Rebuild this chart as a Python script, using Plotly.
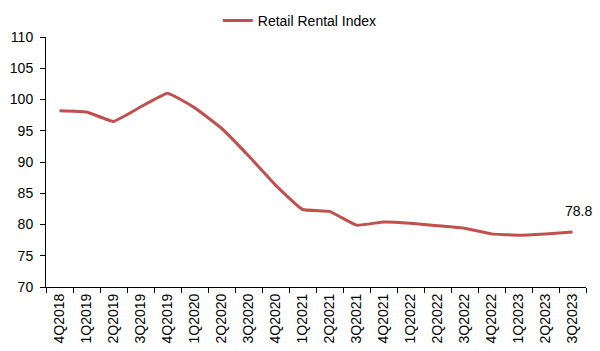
import plotly.graph_objects as go

categories = ["4Q2018", "1Q2019", "2Q2019", "3Q2019", "4Q2019", "1Q2020", "2Q2020",
              "3Q2020", "4Q2020", "1Q2021", "2Q2021", "3Q2021", "4Q2021", "1Q2022",
              "2Q2022", "3Q2022", "4Q2022", "1Q2023", "2Q2023", "3Q2023"]
retail_rental_index = [98.2, 98.0, 96.5, 98.8, 101.0, 98.7, 95.4, 91.0, 86.3, 82.4,
                       82.1, 79.9, 80.4, 80.2, 79.8, 79.4, 78.5, 78.3, 78.5, 78.8]
series_name = "Retail Rental Index"
y_ticks = [70, 75, 80, 85, 90, 95, 100, 105, 110]

fig = go.Figure()
fig.add_trace(go.Scatter(
    x=categories, y=retail_rental_index, mode="lines", name=series_name,
    line=dict(color="#C0504D", width=3, shape="spline", smoothing=0.3),
))

fig.add_annotation(
    x=categories[-1], y=retail_rental_index[-1], text=f"{retail_rental_index[-1]:.1f}",
    showarrow=False, yshift=21, xshift=6,
    font=dict(family="Liberation Sans, Arial", size=14, color="#000000"),
)

fig.update_layout(
    width=600, height=351,
    margin=dict(l=46, r=14, t=37, b=64, autoexpand=False),
    paper_bgcolor="white", plot_bgcolor="white",
    font=dict(family="Liberation Sans, Arial", size=14, color="#000000"),
    showlegend=True,
    legend=dict(orientation="h", x=0.47, xanchor="center", y=1.064, yanchor="middle",
                font=dict(size=14), itemwidth=30, bgcolor="rgba(0,0,0,0)"),
)
fig.update_xaxes(
    type="category", showline=True, linecolor="#000000", linewidth=1,
    ticks="outside", tickson="boundaries", ticklen=5, tickcolor="#000000",
    tickangle=-90, showgrid=False, range=[-0.5, len(categories) - 0.5],
    tickfont=dict(size=14), automargin=False,
)
fig.update_yaxes(
    range=[70, 110], tickvals=y_ticks, showline=True, linecolor="#000000", linewidth=1,
    ticks="outside", ticklen=5, tickcolor="#000000", showgrid=False, zeroline=False,
    tickfont=dict(size=14), ticklabelstandoff=4, automargin=False,
)

fig.write_html("out.html")
